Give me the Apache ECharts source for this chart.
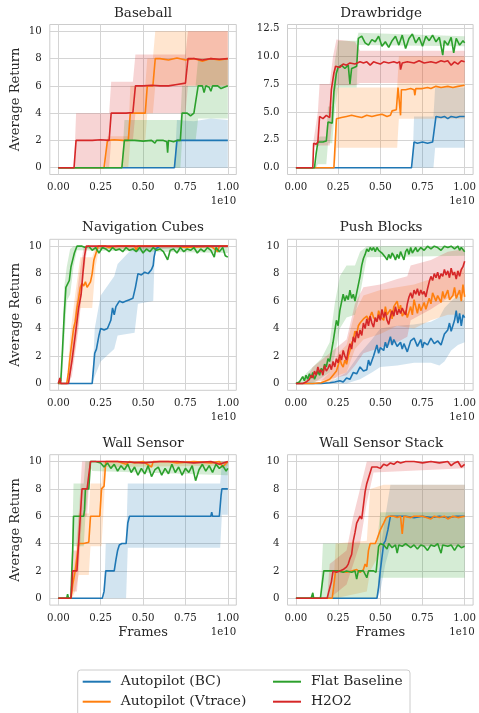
<!DOCTYPE html>
<html>
<head>
<meta charset="utf-8">
<script src="https://cdn.jsdelivr.net/npm/echarts@6/dist/echarts.min.js"></script>
<style>
  html, body { margin: 0; padding: 0; background: #ffffff; }
  #chart { width: 479px; height: 713px; }
</style>
</head>
<body>
<div id="chart"></div>
<script>
// ---- labels and ticks ----
const panelTitles = ['Baseball', 'Drawbridge', 'Navigation Cubes', 'Push Blocks', 'Wall Sensor', 'Wall Sensor Stack'];
const methodNames = ['Autopilot (BC)', 'Autopilot (Vtrace)', 'Flat Baseline', 'H2O2'];
const frameTicks = [0, 0.25, 0.5, 0.75, 1];
const returnTicks = [0, 2, 4, 6, 8, 10];
const drawbridgeTicks = [0, 2.5, 5, 7.5, 10, 12.5];

// ---- series: [frames (1e10), mean return]; bands: [frames (1e10), low, high] ----
// Baseball
const baseballBC = [[0,0],[0.685,0],[0.70,2],[0.8,2],[1.0,2]];
const baseballBCBand = [[0.685,0,0],[0.70,0,3.5],[0.8,0,3.4],[0.9,0,3.6],[1.0,0,3.5]];
const baseballVtrace = [[0,0],[0.27,0],[0.29,2],[0.33,2.05],[0.38,2],[0.413,2],[0.425,4],[0.47,4],[0.513,4],[0.525,6],[0.558,6],[0.572,8],[0.6,8],[0.65,7.9],[0.7,8.05],[0.75,7.9],[0.8,8],[0.85,7.8],[0.9,8],[0.95,7.9],[1.0,8]];
const baseballVtraceBand = [[0.28,0,0],[0.29,0,2.3],[0.413,0,2.3],[0.425,2,6],[0.513,2,6],[0.525,4,8],[0.558,4,8],[0.572,6,10],[1.0,6,10]];
const baseballFlat = [[0,0],[0.375,0],[0.39,2],[0.45,2],[0.5,1.95],[0.55,2],[0.57,1.8],[0.58,2],[0.62,2],[0.64,1.9],[0.645,1.1],[0.65,2],[0.68,1.9],[0.7,2],[0.72,2],[0.73,4],[0.76,4],[0.78,3.8],[0.80,4],[0.81,4],[0.825,6],[0.85,6],[0.86,5.5],[0.87,6],[0.89,5.9],[0.9,5.6],[0.91,6],[0.94,6],[0.96,5.8],[1.0,6]];
const baseballFlatBand = [[0.375,0,0],[0.39,0,3.5],[0.72,0,3.5],[0.73,2,6],[0.81,2,6],[0.825,3.6,8],[1.0,3.6,8]];
const baseballH2O2 = [[0,0],[0.093,0],[0.105,2],[0.2,2],[0.25,2.05],[0.30,2],[0.312,4],[0.35,4],[0.4,4],[0.44,4.05],[0.455,6],[0.5,6],[0.55,6.05],[0.6,6],[0.65,6],[0.7,6.1],[0.75,6.2],[0.765,8],[0.8,8],[0.85,7.9],[0.9,8],[0.95,7.95],[1.0,8]];
const baseballH2O2Band = [[0.093,0,0],[0.105,0,4],[0.30,0,4],[0.312,2,6.3],[0.44,2,6.3],[0.455,4,8.3],[0.75,4,8.3],[0.765,6,10],[1.0,6,10]];

// Drawbridge
const drawbridgeBC = [[0,0],[0.685,0],[0.70,2.3],[0.72,2.2],[0.75,2.3],[0.78,2.2],[0.81,2.3],[0.83,4.6],[0.86,4.5],[0.88,4.6],[0.9,4.4],[0.92,4.6],[0.95,4.5],[0.97,4.6],[1.0,4.6]];
const drawbridgeBCBand = [[0.69,0,0],[0.70,0,4.6],[0.815,0,4.6],[0.825,1.8,7.2],[1.0,1.8,7.2]];
const drawbridgeVtrace = [[0,0],[0.225,0],[0.24,4.4],[0.27,4.5],[0.3,4.6],[0.33,4.7],[0.36,4.6],[0.39,4.5],[0.42,4.7],[0.45,4.6],[0.48,4.7],[0.51,4.8],[0.54,4.6],[0.56,4.7],[0.57,5.1],[0.595,5.2],[0.605,7.2],[0.615,7.2],[0.62,4.7],[0.625,7.0],[0.65,7.0],[0.68,7.1],[0.7,7.0],[0.705,6.5],[0.71,7.1],[0.75,7.1],[0.78,7.2],[0.8,7.1],[0.83,7.3],[0.86,7.2],[0.9,7.3],[0.93,7.2],[0.96,7.3],[1.0,7.4]];
const drawbridgeVtraceBand = [[0.23,0,0],[0.24,1.8,7.2],[0.60,1.8,7.2],[0.61,4.4,10],[1.0,4.4,10]];
const drawbridgeFlat = [[0,0],[0.11,0],[0.12,1.3],[0.13,2.3],[0.16,2.3],[0.18,2.4],[0.19,4.1],[0.215,4.0],[0.225,6.8],[0.24,8.5],[0.25,9.0],[0.27,9.2],[0.29,8.9],[0.31,9.2],[0.32,7.5],[0.33,8.9],[0.345,9.0],[0.36,9.1],[0.37,11.6],[0.39,11.8],[0.41,11.2],[0.43,11.0],[0.45,11.5],[0.47,11.3],[0.49,11.8],[0.51,10.9],[0.53,11.3],[0.55,10.8],[0.57,11.4],[0.59,11.8],[0.61,11.0],[0.63,11.9],[0.65,10.7],[0.67,11.6],[0.69,12.0],[0.71,11.2],[0.73,11.7],[0.75,10.9],[0.77,11.8],[0.79,11.4],[0.81,11.9],[0.83,11.3],[0.85,11.7],[0.87,10.1],[0.88,11.4],[0.9,11.0],[0.92,11.7],[0.935,10.3],[0.95,11.6],[0.97,11.0],[0.99,11.4],[1.0,11.2]];
const drawbridgeFlatBand = [[0.11,0,0],[0.12,0,0.5],[0.13,0.3,2.8],[0.18,0.3,2.8],[0.19,2.2,5.5],[0.215,2.2,5.5],[0.23,5,9.5],[0.25,7.2,11.4],[0.36,7.2,11.4],[0.37,11.0,12.1],[1.0,10.9,11.8]];
const drawbridgeH2O2 = [[0,0],[0.10,0],[0.105,2.2],[0.12,2.1],[0.13,2.3],[0.14,4.6],[0.16,4.4],[0.18,4.7],[0.20,4.5],[0.21,7.0],[0.225,8.5],[0.235,9.1],[0.26,9.0],[0.28,9.3],[0.30,9.2],[0.32,9.4],[0.35,9.3],[0.38,9.5],[0.40,9.4],[0.42,9.5],[0.44,9.2],[0.46,9.5],[0.48,9.4],[0.5,9.3],[0.52,9.5],[0.55,9.4],[0.58,9.5],[0.6,9.4],[0.615,9.5],[0.62,8.8],[0.63,9.4],[0.66,9.5],[0.7,9.4],[0.73,9.6],[0.76,9.4],[0.8,9.5],[0.83,9.4],[0.86,9.6],[0.88,9.5],[0.9,9.6],[0.92,9.2],[0.94,9.5],[0.96,9.3],[0.98,9.6],[1.0,9.5]];
const drawbridgeH2O2Band = [[0.10,0,0],[0.105,1.9,2.5],[0.13,1.9,5],[0.14,2,7.5],[0.20,2,7.5],[0.22,5,10],[0.24,7.4,11.5],[0.35,7.4,11.3],[0.38,7.6,10.5],[1.0,7.6,10.5]];

// Navigation Cubes
const navCubesBC = [[0,0],[0.2,0],[0.215,2.2],[0.225,2.5],[0.24,3.5],[0.25,4.0],[0.27,3.9],[0.29,4.0],[0.30,4.1],[0.31,4.6],[0.32,5.5],[0.33,5.0],[0.34,5.6],[0.36,6.0],[0.38,5.9],[0.40,6.0],[0.42,6.1],[0.44,6.2],[0.455,7.0],[0.47,8.0],[0.49,7.9],[0.51,8.1],[0.53,8.0],[0.55,8.3],[0.56,8.6],[0.565,9.2],[0.575,9.8],[0.6,10],[1.0,10]];
const navCubesBCBand = [[0.2,0,0],[0.215,0.5,4],[0.25,1.6,6.4],[0.33,2.5,7.8],[0.35,3.5,8.7],[0.45,3.7,10],[0.47,5.8,10],[0.56,6,10],[0.57,9.8,10],[1.0,9.9,10]];
const navCubesVtrace = [[0,0],[0.05,0],[0.06,0.8],[0.07,2.0],[0.08,3.0],[0.09,4.0],[0.10,4.5],[0.11,5.5],[0.12,6.2],[0.13,7.0],[0.14,7.3],[0.15,7.1],[0.16,7.4],[0.17,7.0],[0.18,7.2],[0.19,7.4],[0.20,8.0],[0.21,9.0],[0.225,9.6],[0.235,10],[0.28,10],[0.3,9.9],[0.35,10],[0.45,10],[0.46,9.7],[0.47,10],[0.7,10],[0.75,9.9],[0.9,10],[0.94,9.6],[0.95,10],[1.0,10]];
const navCubesVtraceBand = [[0.05,0,0],[0.07,0.5,3.5],[0.10,2.5,6.5],[0.13,5.5,9.2],[0.2,5.5,9.2],[0.22,8.5,10],[0.24,9.8,10],[1.0,9.9,10]];
const navCubesFlat = [[0,0],[0.015,0.2],[0.025,2.5],[0.035,5],[0.045,7.0],[0.055,7.1],[0.065,7.5],[0.075,8.5],[0.085,9.0],[0.095,9.5],[0.11,10],[0.14,10],[0.16,9.9],[0.18,10],[0.2,9.7],[0.22,9.9],[0.24,9.5],[0.26,9.9],[0.28,9.8],[0.3,9.6],[0.32,9.9],[0.34,9.7],[0.36,9.8],[0.38,9.6],[0.4,9.9],[0.42,9.7],[0.44,9.8],[0.46,9.6],[0.48,9.9],[0.5,9.5],[0.52,9.8],[0.54,9.6],[0.56,9.9],[0.58,9.7],[0.6,9.8],[0.62,9.6],[0.645,9.0],[0.66,9.7],[0.68,9.8],[0.7,9.5],[0.72,9.9],[0.74,9.6],[0.76,9.8],[0.78,9.7],[0.8,9.9],[0.82,9.5],[0.84,9.8],[0.86,9.6],[0.88,9.9],[0.9,9.7],[0.92,9.2],[0.93,9.9],[0.95,9.6],[0.97,9.9],[0.985,9.3],[1.0,9.2]];
const navCubesFlatBand = [[0,0,0],[0.02,0,1],[0.035,3,7],[0.05,6,8.5],[0.07,6.5,9.8],[0.09,8.5,10],[0.11,9.7,10],[1.0,9.5,10]];
const navCubesH2O2 = [[0,0],[0.01,0.4],[0.015,0],[0.06,0],[0.08,1.6],[0.10,3.5],[0.12,5.5],[0.135,6.5],[0.145,8.0],[0.155,9.3],[0.165,10],[1.0,10]];
const navCubesH2O2Band = [[0.06,0,0],[0.08,0.5,3],[0.12,4,7.5],[0.15,8,10],[0.17,9.8,10],[1.0,9.9,10]];

// Push Blocks
const pushBlocksBC = [[0,0],[0.05,0],[0.1,0],[0.15,0],[0.2,0.05],[0.23,0.1],[0.26,0.2],[0.28,0.1],[0.30,0.4],[0.32,0.3],[0.34,0.8],[0.36,0.7],[0.38,1.2],[0.40,0.9],[0.42,1.0],[0.43,1.7],[0.44,1.3],[0.46,2.0],[0.48,2.8],[0.49,2.2],[0.50,2.6],[0.52,2.4],[0.53,3.0],[0.54,2.6],[0.56,3.4],[0.57,2.8],[0.58,3.2],[0.60,2.7],[0.62,3.0],[0.63,2.5],[0.64,2.9],[0.66,2.3],[0.68,3.1],[0.70,3.3],[0.72,2.7],[0.74,3.2],[0.75,2.6],[0.76,3.0],[0.78,2.8],[0.80,3.3],[0.82,2.9],[0.84,3.1],[0.86,2.8],[0.88,3.6],[0.90,3.9],[0.91,4.4],[0.92,3.8],[0.94,4.6],[0.95,5.3],[0.96,4.4],[0.97,5.1],[0.98,4.2],[0.99,5.0],[1.0,4.8]];
const pushBlocksBCBand = [[0.2,0,0.1],[0.3,0,0.8],[0.38,0.3,2.2],[0.45,0.8,3.2],[0.5,1.2,4.0],[0.6,1.3,4.2],[0.7,1.5,4.3],[0.8,1.5,4.5],[0.85,1.3,4.8],[0.88,1.6,5.5],[0.92,2.4,6.0],[0.96,2.8,6.4],[1.0,3.0,6.0]];
const pushBlocksVtrace = [[0,0],[0.05,0],[0.1,0],[0.15,0.05],[0.18,0.2],[0.2,0.3],[0.22,0.6],[0.24,0.9],[0.25,1.3],[0.26,1.8],[0.27,1.4],[0.28,1.2],[0.29,1.7],[0.30,1.4],[0.31,2.0],[0.32,2.4],[0.33,2.9],[0.34,3.2],[0.35,3.8],[0.36,3.6],[0.37,4.2],[0.38,4.4],[0.40,4.7],[0.42,4.9],[0.43,4.6],[0.45,5.2],[0.46,4.8],[0.48,4.5],[0.49,5.3],[0.50,4.9],[0.52,4.6],[0.53,5.6],[0.54,5.0],[0.56,5.4],[0.57,4.7],[0.58,5.6],[0.60,6.0],[0.61,5.3],[0.62,5.7],[0.63,4.9],[0.65,5.3],[0.66,4.8],[0.68,5.6],[0.69,5.0],[0.70,6.1],[0.72,5.1],[0.73,5.8],[0.74,5.3],[0.76,5.9],[0.77,5.4],[0.79,6.2],[0.80,5.8],[0.81,6.6],[0.83,6.0],[0.84,6.4],[0.86,5.9],[0.87,6.7],[0.88,6.2],[0.90,6.8],[0.91,6.1],[0.93,6.4],[0.94,7.0],[0.95,6.2],[0.97,6.8],[0.98,6.0],[0.99,7.2],[1.0,6.3]];
const pushBlocksVtraceBand = [[0.15,0,0.2],[0.2,0,0.8],[0.25,0.6,2.2],[0.3,0.8,2.8],[0.35,2.5,5.2],[0.4,3.2,6.4],[0.5,3.6,6.8],[0.6,4.2,7.0],[0.7,4.0,7.2],[0.8,4.6,7.6],[0.9,5.0,8.0],[1.0,5.0,8.4]];
const pushBlocksFlat = [[0,0],[0.02,0.1],[0.04,0.5],[0.05,0.2],[0.06,0.6],[0.07,0.3],[0.08,0.7],[0.09,0.4],[0.10,0.8],[0.11,0.3],[0.12,0.6],[0.13,0.9],[0.14,0.6],[0.15,1.1],[0.16,0.9],[0.17,1.4],[0.18,1.2],[0.19,1.8],[0.20,1.6],[0.21,2.3],[0.22,3.0],[0.23,3.8],[0.24,4.6],[0.25,4.2],[0.26,5.3],[0.27,5.9],[0.28,6.5],[0.29,6.0],[0.30,6.4],[0.31,6.1],[0.32,6.8],[0.33,6.2],[0.34,6.5],[0.35,6.0],[0.36,6.6],[0.37,7.2],[0.38,7.8],[0.39,8.6],[0.40,9.1],[0.41,9.4],[0.42,9.8],[0.43,9.6],[0.44,9.9],[0.45,9.7],[0.46,9.9],[0.47,9.6],[0.48,9.9],[0.49,9.7],[0.50,9.8],[0.51,9.5],[0.52,9.6],[0.53,9.2],[0.54,9.0],[0.55,9.4],[0.56,9.1],[0.57,9.5],[0.58,9.3],[0.59,9.0],[0.60,9.4],[0.61,9.1],[0.62,9.6],[0.63,9.3],[0.64,9.0],[0.65,9.6],[0.66,9.8],[0.67,9.4],[0.68,9.9],[0.69,9.5],[0.70,9.7],[0.71,9.9],[0.72,9.6],[0.73,9.5],[0.74,9.9],[0.76,9.7],[0.78,10],[0.80,9.8],[0.82,10],[0.84,9.9],[0.86,9.7],[0.88,10],[0.90,9.9],[0.92,10],[0.94,9.8],[0.96,10],[0.97,9.7],[0.98,9.9],[0.99,10],[1.0,9.6]];
const pushBlocksFlatBand = [[0,0,0],[0.1,0,1.2],[0.15,0.4,1.8],[0.2,0.8,3.0],[0.23,2,5.8],[0.26,4,7.8],[0.3,4.8,8.6],[0.35,5,8.6],[0.38,6.5,9.6],[0.42,9.2,10],[1.0,9.3,10]];
const pushBlocksH2O2 = [[0,0],[0.04,0],[0.06,0.1],[0.08,0.3],[0.09,0.6],[0.10,0.4],[0.11,0.9],[0.12,0.6],[0.13,1.2],[0.14,0.8],[0.15,1.0],[0.16,0.6],[0.17,1.3],[0.18,0.9],[0.19,1.1],[0.20,1.4],[0.21,1.0],[0.22,1.6],[0.23,1.2],[0.24,1.8],[0.25,1.5],[0.26,2.1],[0.27,1.7],[0.28,2.4],[0.29,2.0],[0.30,1.7],[0.31,2.4],[0.32,2.9],[0.33,2.5],[0.34,3.4],[0.35,3.0],[0.36,3.8],[0.37,3.3],[0.38,3.9],[0.39,3.5],[0.40,4.4],[0.41,4.0],[0.42,4.7],[0.43,4.2],[0.44,4.9],[0.45,4.4],[0.46,4.1],[0.47,4.8],[0.48,4.5],[0.49,5.0],[0.50,4.6],[0.51,5.4],[0.52,4.8],[0.53,5.2],[0.54,4.6],[0.55,4.3],[0.56,4.9],[0.57,5.3],[0.58,4.9],[0.59,5.6],[0.60,5.0],[0.61,5.4],[0.62,5.1],[0.63,5.5],[0.64,5.2],[0.65,5.0],[0.66,5.8],[0.67,6.3],[0.68,6.6],[0.69,6.2],[0.70,6.8],[0.71,6.5],[0.72,6.9],[0.73,6.4],[0.74,6.8],[0.75,6.5],[0.76,6.7],[0.77,6.3],[0.78,6.9],[0.79,7.4],[0.80,7.8],[0.81,7.5],[0.82,8.0],[0.83,7.7],[0.84,8.1],[0.85,7.6],[0.86,8.0],[0.87,7.8],[0.88,8.3],[0.89,7.9],[0.90,8.2],[0.91,7.7],[0.92,8.4],[0.93,7.9],[0.94,8.1],[0.95,7.6],[0.96,8.2],[0.97,7.8],[0.98,8.3],[0.99,8.5],[1.0,8.9]];
const pushBlocksH2O2Band = [[0.05,0,0.1],[0.1,0.1,1.2],[0.2,0.3,2.2],[0.3,0.6,3.2],[0.35,1.3,5.8],[0.4,2.2,7.0],[0.5,2.6,7.2],[0.6,3.0,7.6],[0.66,3.4,7.8],[0.68,4.6,8.6],[0.8,5.4,9.0],[0.9,6.2,9.6],[1.0,6.6,9.8]];

// Wall Sensor
const wallSensorBC = [[0,0],[0.26,0],[0.27,0.5],[0.28,2.0],[0.30,2.0],[0.33,2.0],[0.34,2.8],[0.35,3.5],[0.36,3.9],[0.375,4.0],[0.40,4.0],[0.41,5.5],[0.42,6.0],[0.5,6.0],[0.55,6.0],[0.555,5.9],[0.56,6.0],[0.6,6.0],[0.7,6.0],[0.8,6.0],[0.9,6.0],[0.905,6.3],[0.91,6.0],[0.95,6.0],[0.96,7.5],[0.965,8.0],[1.0,8.0]];
const wallSensorBCBand = [[0.27,0,0],[0.28,0,4.0],[0.40,0,4.0],[0.41,3.7,8.4],[0.955,3.7,8.4],[0.965,6.1,9.9],[1.0,6.1,9.9]];
const wallSensorVtrace = [[0,0],[0.075,0],[0.085,1.0],[0.10,2.0],[0.11,3.0],[0.12,4.0],[0.15,4.0],[0.18,4.1],[0.19,6.0],[0.22,6.0],[0.245,6.0],[0.255,8.0],[0.27,8.2],[0.28,10],[0.35,10],[0.4,9.8],[0.42,10],[0.45,9.9],[0.5,10],[0.55,9.6],[0.56,10],[0.65,10],[0.7,9.9],[0.8,10],[0.9,9.9],[0.95,10],[0.97,9.6],[1.0,10]];
const wallSensorVtraceBand = [[0.08,0,0.5],[0.10,0.5,3],[0.12,1.7,6.2],[0.18,1.7,6.2],[0.19,3.8,8.4],[0.255,3.8,8.4],[0.265,6,10],[0.28,9.6,10],[1.0,9.7,10]];
const wallSensorFlat = [[0,0],[0.05,0],[0.055,0.3],[0.06,0],[0.075,0],[0.08,2.0],[0.085,3.5],[0.09,6.0],[0.12,6.0],[0.15,6.0],[0.155,6.5],[0.16,8.0],[0.18,8.0],[0.19,10],[0.22,10],[0.25,9.9],[0.27,9.6],[0.29,9.9],[0.31,9.5],[0.33,9.8],[0.35,9.3],[0.37,9.7],[0.39,9.4],[0.41,9.8],[0.43,9.2],[0.45,9.6],[0.47,9.0],[0.49,9.5],[0.51,9.1],[0.53,9.7],[0.55,8.9],[0.57,9.4],[0.59,9.6],[0.61,9.0],[0.63,9.5],[0.65,9.1],[0.67,9.8],[0.69,9.2],[0.71,9.6],[0.73,9.0],[0.75,9.5],[0.77,9.2],[0.79,9.7],[0.81,8.6],[0.83,9.4],[0.85,9.8],[0.87,9.3],[0.89,9.7],[0.91,9.2],[0.93,9.8],[0.95,9.5],[0.97,9.7],[0.99,9.3],[1.0,9.5]];
const wallSensorFlatBand = [[0.07,0,0.5],[0.08,0.5,3],[0.09,3.8,8.4],[0.15,3.8,8.4],[0.16,6,10],[0.19,9.6,10],[0.2,9.3,10],[1.0,9.0,10]];
const wallSensorH2O2 = [[0,0],[0.075,0],[0.085,2.0],[0.11,2.0],[0.12,4.0],[0.13,6.0],[0.14,8.0],[0.17,8.0],[0.18,9.0],[0.19,10],[0.3,10],[0.35,10],[0.5,9.9],[0.6,10],[0.7,10],[0.8,9.9],[0.9,10],[0.95,9.8],[1.0,10]];
const wallSensorH2O2Band = [[0.075,0,0],[0.085,0.5,3.5],[0.11,0.5,3.5],[0.12,2,6],[0.14,6,10],[0.17,6,10],[0.19,10,10],[1.0,9.8,10]];

// Wall Sensor Stack
const wallStackBC = [[0,0],[0.48,0],[0.49,0.8],[0.50,2.0],[0.51,3.0],[0.52,4.0],[0.53,4.2],[0.545,5.0],[0.56,6.0],[0.6,6.0],[0.65,6.0],[0.7,5.9],[0.75,6.0],[0.8,5.9],[0.85,6.0],[0.9,5.9],[0.95,6.0],[1.0,6.0]];
const wallStackBCBand = [[0.48,0,0],[0.50,0.5,3.5],[0.53,2.5,6],[0.56,3.8,8.3],[1.0,3.8,8.3]];
const wallStackVtrace = [[0,0],[0.215,0],[0.225,1.0],[0.235,2.0],[0.27,2.0],[0.3,1.9],[0.33,2.0],[0.36,2.1],[0.38,1.9],[0.40,2.1],[0.41,2.5],[0.42,2.3],[0.43,3.5],[0.44,4.0],[0.47,4.0],[0.48,4.3],[0.50,5.0],[0.52,5.5],[0.535,5.9],[0.55,6.0],[0.58,6.0],[0.6,5.9],[0.62,6.0],[0.63,4.7],[0.64,6.0],[0.68,5.9],[0.7,6.0],[0.75,6.0],[0.8,5.8],[0.82,6.0],[0.85,5.9],[0.88,6.0],[0.9,5.8],[0.93,6.0],[0.96,5.9],[1.0,6.0]];
const wallStackVtraceBand = [[0.22,0,0],[0.235,0,4],[0.42,0.5,4.2],[0.44,2,8],[0.52,3.8,8.3],[1.0,3.8,8.3]];
const wallStackFlat = [[0,0],[0.09,0],[0.10,0.4],[0.105,0],[0.145,0],[0.155,1.0],[0.165,2.0],[0.2,2.0],[0.25,2.0],[0.28,1.9],[0.3,2.0],[0.33,1.9],[0.35,2.0],[0.36,1.4],[0.37,2.0],[0.4,2.0],[0.42,1.5],[0.43,2.0],[0.46,2.0],[0.475,1.9],[0.49,3.8],[0.5,4.0],[0.52,3.9],[0.54,3.6],[0.55,4.0],[0.57,3.7],[0.59,3.9],[0.60,3.3],[0.61,3.9],[0.63,3.8],[0.65,4.0],[0.68,3.7],[0.70,3.9],[0.72,3.6],[0.74,3.9],[0.76,3.8],[0.78,3.5],[0.80,3.9],[0.82,3.8],[0.84,4.0],[0.86,3.3],[0.87,3.9],[0.9,3.8],[0.92,3.9],[0.94,3.5],[0.96,3.9],[0.98,3.7],[1.0,3.8]];
const wallStackFlatBand = [[0.145,0,0],[0.16,0,4],[0.48,0,4],[0.50,1.5,6.3],[1.0,1.5,6.3]];
const wallStackH2O2 = [[0,0],[0.185,0],[0.195,0.5],[0.21,1.2],[0.22,2.0],[0.24,1.9],[0.26,2.0],[0.28,2.1],[0.3,2.3],[0.31,2.5],[0.32,2.9],[0.33,3.2],[0.34,4.2],[0.35,4.8],[0.36,5.5],[0.37,5.4],[0.38,6.0],[0.39,5.8],[0.40,6.8],[0.41,7.8],[0.42,8.4],[0.43,8.3],[0.44,9.2],[0.45,9.6],[0.46,9.7],[0.48,9.6],[0.50,9.5],[0.52,9.8],[0.54,9.7],[0.56,9.9],[0.58,9.8],[0.60,10],[0.62,9.9],[0.65,10],[0.7,10],[0.75,9.9],[0.8,10],[0.85,9.9],[0.9,10],[0.92,9.7],[0.94,9.9],[0.96,10],[0.98,9.6],[1.0,9.8]];
const wallStackH2O2Band = [[0.185,0,0],[0.2,0,2.5],[0.3,1,3.5],[0.34,2.5,6],[0.38,4,8],[0.42,7,10],[0.46,9.2,10],[1.0,9.5,10]];

// ---- style ----
const methodColors = ['#1f77b4', '#ff7f0e', '#2ca02c', '#d62728'];
const textColor = '#262626';
const gridLineColor = '#d4d4d4';
const fontFamily = '"DejaVu Serif", "Liberation Serif", serif';

const panels = [
  { title: panelTitles[0], ticks: returnTicks, yMin: -0.5, yMax: 10.5, digits: 0,
    lines: [baseballBC, baseballVtrace, baseballFlat, baseballH2O2],
    bands: [baseballBCBand, baseballVtraceBand, baseballFlatBand, baseballH2O2Band] },
  { title: panelTitles[1], ticks: drawbridgeTicks, yMin: -0.61, yMax: 12.85, digits: 1,
    lines: [drawbridgeBC, drawbridgeVtrace, drawbridgeFlat, drawbridgeH2O2],
    bands: [drawbridgeBCBand, drawbridgeVtraceBand, drawbridgeFlatBand, drawbridgeH2O2Band] },
  { title: panelTitles[2], ticks: returnTicks, yMin: -0.5, yMax: 10.5, digits: 0,
    lines: [navCubesBC, navCubesVtrace, navCubesFlat, navCubesH2O2],
    bands: [navCubesBCBand, navCubesVtraceBand, navCubesFlatBand, navCubesH2O2Band] },
  { title: panelTitles[3], ticks: returnTicks, yMin: -0.5, yMax: 10.5, digits: 0,
    lines: [pushBlocksBC, pushBlocksVtrace, pushBlocksFlat, pushBlocksH2O2],
    bands: [pushBlocksBCBand, pushBlocksVtraceBand, pushBlocksFlatBand, pushBlocksH2O2Band] },
  { title: panelTitles[4], ticks: returnTicks, yMin: -0.5, yMax: 10.5, digits: 0,
    lines: [wallSensorBC, wallSensorVtrace, wallSensorFlat, wallSensorH2O2],
    bands: [wallSensorBCBand, wallSensorVtraceBand, wallSensorFlatBand, wallSensorH2O2Band] },
  { title: panelTitles[5], ticks: returnTicks, yMin: -0.5, yMax: 10.5, digits: 0,
    lines: [wallStackBC, wallStackVtrace, wallStackFlat, wallStackH2O2],
    bands: [wallStackBCBand, wallStackVtraceBand, wallStackFlatBand, wallStackH2O2Band] }
];

// ---- layout of the 3x2 grid of axes ----
const colLeft = [49.8, 287.5];
const colWidth = [186.5, 187.3];
const rowTop = [24.5, 239.3, 454.7];
const rowHeight = [150, 151, 150.4];

const grids = [], xAxes = [], yAxes = [], series = [], graphics = [];

panels.forEach((p, i) => {
  const col = i % 2, row = Math.floor(i / 2);
  const left = colLeft[col], top = rowTop[row], w = colWidth[col], h = rowHeight[row];
  grids.push({ left, top, width: w, height: h, show: true, borderColor: '#cccccc', borderWidth: 1, backgroundColor: '#ffffff' });

  xAxes.push({
    gridIndex: i, type: 'value', min: -0.05, max: 1.05,
    axisLine: { show: false },
    axisTick: { show: false, customValues: frameTicks },
    axisLabel: { customValues: frameTicks, formatter: v => v.toFixed(2), color: textColor, fontSize: 10.2, fontFamily, margin: 8 },
    splitLine: { show: true, lineStyle: { color: gridLineColor, width: 1 } },
    name: row === 2 ? 'Frames' : '', nameLocation: 'middle', nameGap: 21,
    nameTextStyle: { color: textColor, fontSize: 13, fontFamily }
  });

  yAxes.push({
    gridIndex: i, type: 'value', min: p.yMin, max: p.yMax,
    axisLine: { show: false },
    axisTick: { show: false, customValues: p.ticks },
    axisLabel: { customValues: p.ticks, formatter: v => v.toFixed(p.digits), color: textColor, fontSize: 10.2, fontFamily, margin: 8 },
    splitLine: { show: true, lineStyle: { color: gridLineColor, width: 1 } },
    name: col === 0 ? 'Average Return' : '', nameLocation: 'middle', nameGap: 28,
    nameTextStyle: { color: textColor, fontSize: 13, fontFamily }
  });

  // shaded spread bands
  p.bands.forEach((rows, k) => {
    series.push({
      type: 'custom', name: methodNames[k] + ' spread', xAxisIndex: i, yAxisIndex: i,
      data: rows, encode: { x: 0, y: [1, 2] }, silent: true, animation: false, z: 1, clip: true,
      renderItem: (params, api) => {
        if (params.dataIndex !== 0) return null;
        const upper = rows.map(r => api.coord([r[0], r[2]]));
        const lower = rows.map(r => api.coord([r[0], r[1]])).reverse();
        return { type: 'polygon', shape: { points: upper.concat(lower) },
                 style: { fill: methodColors[k], opacity: 0.2 } };
      }
    });
  });

  // mean curves
  p.lines.forEach((pts, k) => {
    series.push({
      type: 'line', name: methodNames[k], xAxisIndex: i, yAxisIndex: i,
      data: pts, symbol: 'none', animation: false, z: 3,
      lineStyle: { color: methodColors[k], width: 1.6 },
      itemStyle: { color: methodColors[k] }
    });
  });

  // panel title
  graphics.push({
    type: 'text', x: left + w / 2, y: top - 11.5,
    style: { text: p.title, fill: textColor, font: '13.5px ' + fontFamily, textAlign: 'center', textVerticalAlign: 'middle' }
  });
  // axis offset text
  graphics.push({
    type: 'text', x: left + w, y: top + h + 27.2,
    style: { text: '1e10', fill: textColor, font: '10.2px ' + fontFamily, textAlign: 'right', textVerticalAlign: 'middle' }
  });
});

// legend frame
graphics.push({
  type: 'rect', z: 0,
  shape: { x: 77.7, y: 670, width: 332.3, height: 52, r: 3 },
  style: { fill: 'rgba(255,255,255,0.8)', stroke: '#cccccc', lineWidth: 1 }
});

const legendCommon = {
  orient: 'vertical', icon: 'rect', itemWidth: 28, itemHeight: 2, itemGap: 6, padding: 0,
  textStyle: { color: textColor, fontSize: 13.8, fontFamily, lineHeight: 14, padding: [0, 0, 0, 5] },
  selectedMode: false
};

const chart = echarts.init(document.getElementById('chart'), null, { renderer: 'canvas' });
chart.setOption({
  backgroundColor: '#ffffff',
  animation: false,
  grid: grids,
  xAxis: xAxes,
  yAxis: yAxes,
  series: series,
  legend: [
    Object.assign({ left: 82.7, top: 674.7, data: [methodNames[0], methodNames[1]] }, legendCommon),
    Object.assign({ left: 273, top: 674.7, data: [methodNames[2], methodNames[3]] }, legendCommon)
  ],
  graphic: graphics
});
</script>
</body>
</html>
